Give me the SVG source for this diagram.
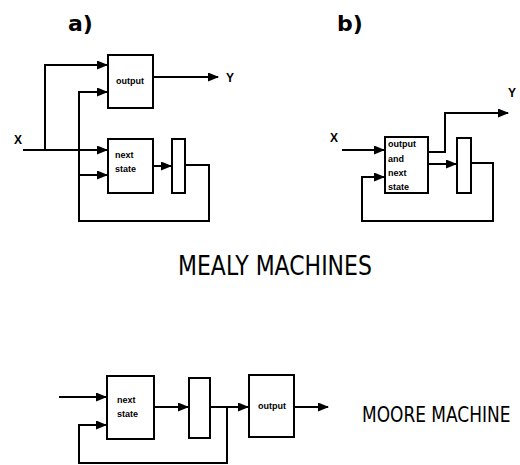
<svg xmlns="http://www.w3.org/2000/svg" width="520" height="465" viewBox="0 0 520 465">
<style>
.box{fill:#fff;stroke:#000;stroke-width:2}
.w{fill:none;stroke:#000;stroke-width:2}
.s{font-family:"Liberation Sans",Arial,sans-serif;font-weight:bold;font-size:9px;fill:#000}
.lbl{font-family:"Liberation Sans",Arial,sans-serif;font-weight:bold;font-size:12px;fill:#000}
.h{font-family:"DejaVu Sans",sans-serif;font-weight:bold;font-size:22px;fill:#000}
.t{font-family:"DejaVu Sans",sans-serif;font-weight:normal;fill:#000}
</style>
<defs>
<marker id="ah" markerUnits="userSpaceOnUse" markerWidth="11" markerHeight="9" refX="10" refY="4.5" orient="auto">
<path d="M0,0 L11,4.5 L0,9 z" fill="#000"/>
</marker>
</defs>
<rect width="520" height="465" fill="#fff"/>
<g id="connectors">
<path class="w" d="M23,150 H107" marker-end="url(#ah)"/>
<path class="w" d="M45,150 V65 H107" marker-end="url(#ah)"/>
<path class="w" d="M185,165 H209 V221 H79 V92 H107" marker-end="url(#ah)"/>
<path class="w" d="M79,175 H107" marker-end="url(#ah)"/>
<path class="w" d="M153,166 H171" marker-end="url(#ah)"/>
<path class="w" d="M153,77 H218" marker-end="url(#ah)"/>
<path class="w" d="M342,150 H384" marker-end="url(#ah)"/>
<path class="w" d="M428,152 H445 V113 H508" marker-end="url(#ah)"/>
<path class="w" d="M428,164 H456" marker-end="url(#ah)"/>
<path class="w" d="M471,163 H493 V221 H362 V177 H384" marker-end="url(#ah)"/>
<path class="w" d="M59,397 H106" marker-end="url(#ah)"/>
<path class="w" d="M154,407 H188" marker-end="url(#ah)"/>
<path class="w" d="M210,407 H248" marker-end="url(#ah)"/>
<path class="w" d="M227,407 V463 H79 V425 H106" marker-end="url(#ah)"/>
<path class="w" d="M294,407 H328" marker-end="url(#ah)"/>
</g>
<g id="labels">
<text class="h" x="68" y="31">a)</text>
<text class="h" x="337" y="31">b)</text>
<text class="lbl" x="14" y="144">X</text>
<text class="lbl" x="226" y="82">Y</text>
<text class="lbl" x="330" y="142">X</text>
<text class="lbl" x="508" y="97">Y</text>
<text class="t" transform="translate(178,275) scale(1,1.2)" font-size="22">MEALY MACHINES</text>
<text class="t" transform="translate(362,422) scale(1,1.25)" font-size="17">MOORE MACHINE</text>
</g>
<g id="a-output">
<rect class="box" x="108" y="55" width="45" height="53"/>
<text class="s" x="130" y="84" text-anchor="middle">output</text>
</g>
<g id="a-nextstate">
<rect class="box" x="108" y="139" width="45" height="54"/>
<text class="s" x="115" y="158">next</text>
<text class="s" x="115" y="172">state</text>
</g>
<g id="a-register">
<rect class="box" x="172" y="139" width="13" height="54"/>
</g>
<g id="b-combined">
<rect class="box" x="385" y="137" width="43" height="56"/>
<text class="s" x="388" y="147">output</text>
<text class="s" x="388" y="162">and</text>
<text class="s" x="388" y="176">next</text>
<text class="s" x="388" y="190">state</text>
</g>
<g id="b-register">
<rect class="box" x="457" y="138" width="14" height="55"/>
</g>
<g id="moore-nextstate">
<rect class="box" x="107" y="376" width="47" height="63"/>
<text class="s" x="117" y="403">next</text>
<text class="s" x="117" y="417">state</text>
</g>
<g id="moore-register">
<rect class="box" x="189" y="378" width="21" height="60"/>
</g>
<g id="moore-output">
<rect class="box" x="249" y="375" width="45" height="62"/>
<text class="s" x="272" y="409" text-anchor="middle">output</text>
</g>
</svg>
